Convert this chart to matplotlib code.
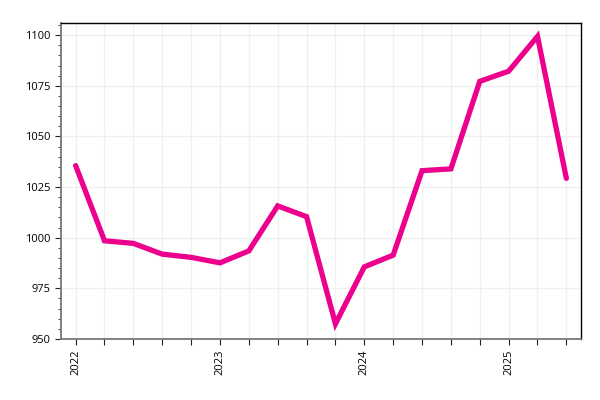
import matplotlib
matplotlib.use("Agg")
import matplotlib.pyplot as plt
from matplotlib.ticker import MultipleLocator

# index values, 5 points per year label
values = [1035.6, 998.5, 997.2, 991.9, 990.3, 987.6, 993.5, 1015.7, 1010.4,
          957.5, 985.6, 991.4, 1033.1, 1034.0, 1077.2, 1082.2, 1099.4, 1029.3]
year_labels = ["2022", "2023", "2024", "2025"]
label_pos = [0, 5, 10, 15]

plt.rcParams["font.family"] = ["Open Sans", "DejaVu Sans"]

fig = plt.figure(figsize=(6, 4), dpi=100)
ax = fig.add_axes([0.102, 0.1525, 0.866, 0.79])

x = list(range(len(values)))
ax.plot(x, values, color="#EC008C", linewidth=3.8, solid_capstyle="round",
        solid_joinstyle="miter", zorder=3)

ax.set_xlim(-0.5, 17.5)
ax.set_ylim(950, 1106)

ax.set_xticks(x)
ax.set_xticklabels([year_labels[label_pos.index(i)] if i in label_pos else "" for i in x],
                   rotation=90, fontsize=8)
ax.yaxis.set_major_locator(MultipleLocator(25))
ax.yaxis.set_minor_locator(MultipleLocator(5))
ax.tick_params(axis="y", labelsize=8, length=4, color="#222222")
ax.tick_params(axis="y", which="minor", length=2, color="#222222")
ax.tick_params(axis="x", length=4, color="#222222")

ax.grid(True, which="major", color="#f0f0f0", linewidth=1, zorder=0)

for s in ["left", "bottom"]:
    ax.spines[s].set_color("#777777")
    ax.spines[s].set_linewidth(1.3)
for s in ["top", "right"]:
    ax.spines[s].set_color("black")
    ax.spines[s].set_linewidth(1)

fig.savefig("out.png", dpi=100)
